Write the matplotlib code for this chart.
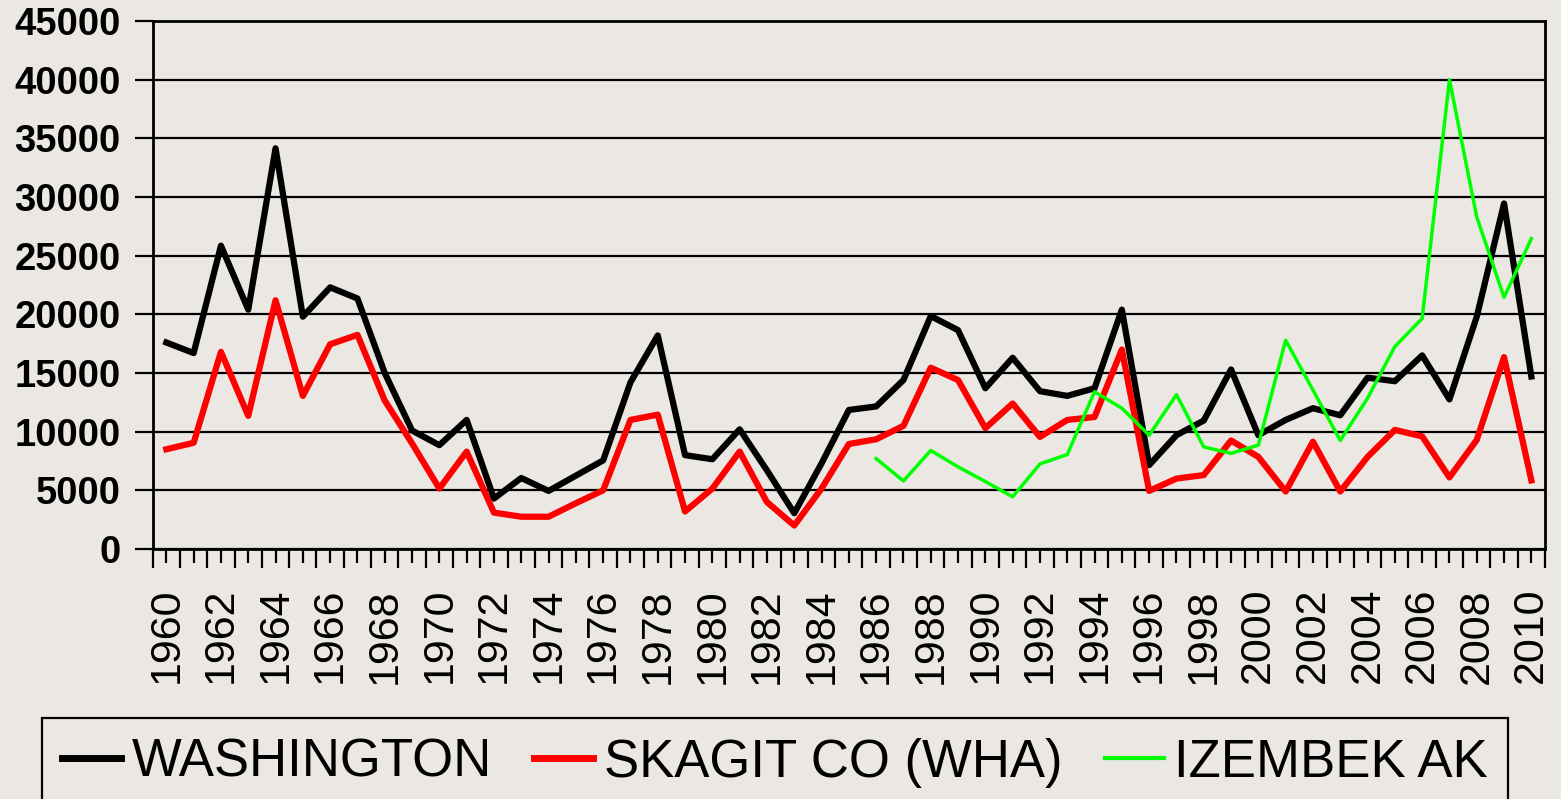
import matplotlib
matplotlib.use("Agg")
import matplotlib.pyplot as plt
import numpy as np

years = list(range(1960, 2011))
washington = [17600, 16700, 25850, 20400, 34150, 19800, 22300, 21350, 15000, 10100,
              8850, 11000, 4300, 6050, 4950, 6250, 7550, 14200, 18200, 8000,
              7650, 10200, 6700, 3050, 7300, 11850, 12150, 14400, 19850, 18650,
              13700, 16300, 13450, 13050, 13700, 20400, 7150, 9700, 10950, 15300,
              9700, 11000, 12000, 11400, 14600, 14300, 16500, 12750, 19800, 29450,
              14700]
skagit = [8500, 9050, 16800, 11350, 21200, 13050, 17450, 18250, 12650, 9000,
          5150, 8300, 3100, 2750, 2750, 3900, 5000, 11000, 11450, 3200,
          5150, 8300, 4000, 2000, 5150, 8950, 9350, 10500, 15450, 14400,
          10300, 12400, 9550, 11000, 11250, 17000, 4950, 6000, 6300, 9250,
          7850, 4900, 9150, 4900, 7850, 10150, 9600, 6100, 9300, 16350,
          5850]
izembek_years = list(range(1986, 2011))
izembek = [7700, 5800, 8400, 7000, 5750, 4450, 7250, 8050, 13400, 12000,
           9700, 13150, 8700, 8150, 8850, 17800, 13550, 9250, 12850, 17250,
           19650, 40000, 28300, 21450, 26450]
yticks = list(range(0, 45001, 5000))
labels_series = ["WASHINGTON", "SKAGIT CO (WHA)", "IZEMBEK AK"]

bg = "#ebe7e3"
fig = plt.figure(figsize=(15.61, 7.99), dpi=100, facecolor=bg)
ax = fig.add_axes([152.7 / 1561, 1 - 549 / 799, (1545 - 152.7) / 1561, (549 - 21) / 799])
ax.set_facecolor(bg)

ax.plot(years, washington, color="black", lw=4.5, label=labels_series[0], zorder=3)
ax.plot(years, skagit, color="#ff0000", lw=4.5, label=labels_series[1], zorder=3)
ax.plot(izembek_years, izembek, color="#00ff00", lw=2.5, label=labels_series[2], zorder=4)

ax.set_xlim(1959.5, 2010.5)
ax.set_ylim(0, 45000)
ax.set_yticks(yticks)
ax.set_yticklabels([str(v) for v in yticks], fontsize=27.5, fontweight="bold",
                   family=["Liberation Sans", "DejaVu Sans"])
ax.yaxis.grid(True, color="black", lw=1.6)
ax.set_axisbelow(True)

ax.set_xticks(years)
ax.set_xticklabels([str(y) if y % 2 == 0 else "" for y in years], rotation=90,
                   fontsize=31, family=["Liberation Sans", "DejaVu Sans"])
ax.set_xticks([y - 0.5 for y in years] + [2010.5], minor=True)
ax.tick_params(axis="x", which="major", length=10, width=1.6, pad=18, color="black")
ax.tick_params(axis="x", which="minor", length=14, width=1.6, color="black")
ax.tick_params(axis="y", which="major", length=13, width=1.6, pad=10)

for s in ["left", "bottom", "right", "top"]:
    ax.spines[s].set_linewidth(2)
    ax.spines[s].set_color("black")

leg = fig.legend(loc="upper left", bbox_to_anchor=(42 / 1561, 1 - 717.7 / 799), ncol=3,
                 prop={"family": ["Liberation Sans", "DejaVu Sans"], "size": 38},
                 handlelength=1.12, handletextpad=0.2, columnspacing=0.8,
                 borderpad=0.38, borderaxespad=0, frameon=True, fancybox=False,
                 facecolor=bg, edgecolor="black", framealpha=1)
leg.get_frame().set_linewidth(1.6)
for line in leg.get_lines():
    line.set_linewidth(5)
leg.get_lines()[2].set_linewidth(3)

fig.savefig("out.png", dpi=100, facecolor=bg)
